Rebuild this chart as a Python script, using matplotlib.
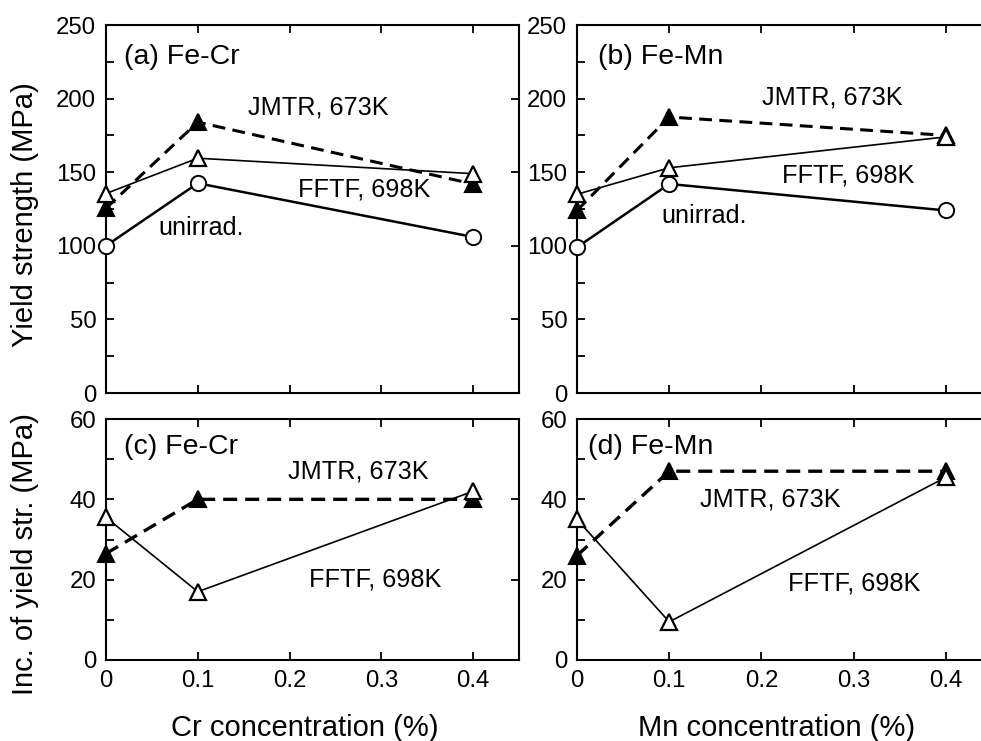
import matplotlib
matplotlib.use("Agg")
import matplotlib.pyplot as plt
from matplotlib.ticker import MultipleLocator, FixedLocator

plt.rcParams['font.family'] = ['Liberation Sans', 'DejaVu Sans']

conc = [0.0, 0.1, 0.4]

# Yield strength (MPa)
cr_unirr = [100, 142.5, 106]
cr_fftf = [135.5, 159.5, 149]
cr_jmtr = [125.5, 184, 142]
mn_unirr = [99, 142, 124]
mn_fftf = [135, 153, 174]
mn_jmtr = [124, 187.5, 175]

# Increase of yield strength (MPa)
cr_inc_fftf = [35.5, 17, 42]
cr_inc_jmtr = [26.5, 40, 40]
mn_inc_fftf = [35, 9.5, 45.5]
mn_inc_jmtr = [26, 47, 47]

xticks = [0, 0.1, 0.2, 0.3, 0.4]
xticklabels = ['0', '0.1', '0.2', '0.3', '0.4']

W, H = 981, 741
fig = plt.figure(figsize=(W / 100, H / 100), dpi=100)

def ax_at(l, r, t, b):
    return fig.add_axes([l / W, (H - b) / H, (r - l) / W, (b - t) / H])

axa = ax_at(106, 519, 25, 393)
axb = ax_at(577, 992, 25, 393)
axc = ax_at(106, 519, 419, 660)
axd = ax_at(577, 992, 419, 660)

TFS = 17.3   # tick labels
AFS = 18.2   # annotations
PFS = 20.5   # panel labels
LFS = 21     # axis labels
dash = (0, (4.2, 2.4))

def style(ax, ymax, ymaj, ymin, showx):
    ax.set_xlim(0, 0.45)
    ax.set_ylim(0, ymax)
    for s in ax.spines.values():
        s.set_linewidth(1.5)
    ax.xaxis.set_major_locator(FixedLocator(xticks))
    ax.yaxis.set_major_locator(MultipleLocator(ymaj))
    ax.yaxis.set_minor_locator(MultipleLocator(ymin))
    ax.tick_params(which='both', direction='in', length=6, width=1.3,
                   top=True, right=False, labelsize=TFS, pad=7)
    ax.tick_params(axis='y', which='major', right=True)
    if showx:
        ax.set_xticklabels(xticklabels)
    else:
        ax.set_xticklabels([])

def plot_top(ax, unirr, fftf, jmtr):
    ax.plot(conc, jmtr, color='black', lw=2.2, linestyle=dash, marker='^',
            ms=11, mfc='black', mec='black', mew=1.5, zorder=3, clip_on=False)
    ax.plot(conc, fftf, color='black', lw=1.2, marker='^', ms=11,
            mfc='white', mec='black', mew=1.6, zorder=4, clip_on=False)
    ax.plot(conc, unirr, color='black', lw=1.8, marker='o', ms=11,
            mfc='white', mec='black', mew=1.4, zorder=5, clip_on=False)

def plot_bot(ax, fftf, jmtr):
    ax.plot(conc, jmtr, color='black', lw=2.4, linestyle=dash, marker='^',
            ms=11, mfc='black', mec='black', mew=1.5, zorder=3, clip_on=False)
    ax.plot(conc, fftf, color='black', lw=1.2, marker='^', ms=11,
            mfc='white', mec='black', mew=1.6, zorder=4, clip_on=False)

plot_top(axa, cr_unirr, cr_fftf, cr_jmtr)
plot_top(axb, mn_unirr, mn_fftf, mn_jmtr)
plot_bot(axc, cr_inc_fftf, cr_inc_jmtr)
plot_bot(axd, mn_inc_fftf, mn_inc_jmtr)

for ax in (axa, axb):
    style(ax, 250, 50, 25, False)
for ax in (axc, axd):
    style(ax, 60, 20, 10, True)

def txt(ax, x, y, s, fs=AFS):
    ax.text(x, y, s, fontsize=fs, ha='left', va='center')

txt(axa, 0.02, 228, '(a) Fe-Cr', PFS)
txt(axa, 0.155, 194, 'JMTR, 673K')
txt(axa, 0.209, 138, 'FFTF, 698K')
txt(axa, 0.057, 112, 'unirrad.')

txt(axb, 0.023, 228, '(b) Fe-Mn', PFS)
txt(axb, 0.201, 201, 'JMTR, 673K')
txt(axb, 0.222, 147.5, 'FFTF, 698K')
txt(axb, 0.092, 120, 'unirrad.')

txt(axc, 0.02, 53, '(c) Fe-Cr', PFS)
txt(axc, 0.198, 47, 'JMTR, 673K')
txt(axc, 0.221, 20, 'FFTF, 698K')

txt(axd, 0.012, 53, '(d) Fe-Mn', PFS)
txt(axd, 0.133, 40, 'JMTR, 673K')
txt(axd, 0.229, 19, 'FFTF, 698K')

fig.text(25 / W, 1 - 215 / H, 'Yield strength (MPa)', fontsize=LFS,
         rotation=90, ha='center', va='center')
fig.text(25 / W, 1 - 554 / H, 'Inc. of yield str. (MPa)', fontsize=LFS,
         rotation=90, ha='center', va='center')
fig.text(305 / W, 1 - 728 / H, 'Cr concentration (%)', fontsize=LFS,
         ha='center', va='center')
fig.text(777 / W, 1 - 728 / H, 'Mn concentration (%)', fontsize=LFS,
         ha='center', va='center')

fig.savefig('out.png', dpi=100)
